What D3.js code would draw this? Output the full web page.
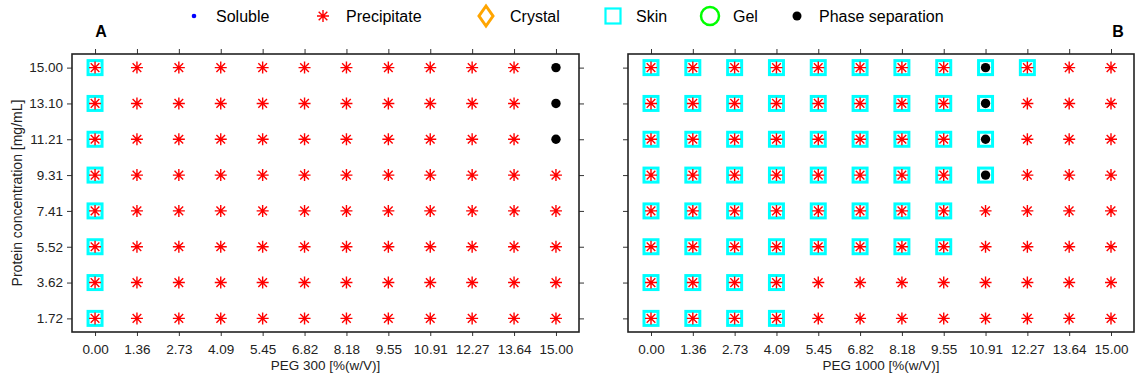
<!DOCTYPE html>
<html>
<head>
<meta charset="utf-8">
<script src="https://cdn.jsdelivr.net/npm/d3@7"></script>
<style>
  html, body { margin: 0; padding: 0; background: #fff; }
  svg { display: block; font-family: "Liberation Sans", Arial, sans-serif; }
</style>
</head>
<body>
<svg id="chart" width="1135" height="379"></svg>
<script>
// PEG concentration levels (x) and protein concentration levels (y)
const pegLevels = ["0.00", "1.36", "2.73", "4.09", "5.45", "6.82", "8.18", "9.55", "10.91", "12.27", "13.64", "15.00"];
const proteinLevels = ["15.00", "13.10", "11.21", "9.31", "7.41", "5.52", "3.62", "1.72"];

// Observed outcome per well. K = skin, P = precipitate, S = phase separation.
// One row per protein concentration (top to bottom), one entry per PEG level.
const peg300Rows = [
  ["KP", "P", "P", "P", "P", "P", "P", "P", "P", "P", "P", "S"],
  ["KP", "P", "P", "P", "P", "P", "P", "P", "P", "P", "P", "S"],
  ["KP", "P", "P", "P", "P", "P", "P", "P", "P", "P", "P", "S"],
  ["KP", "P", "P", "P", "P", "P", "P", "P", "P", "P", "P", "P"],
  ["KP", "P", "P", "P", "P", "P", "P", "P", "P", "P", "P", "P"],
  ["KP", "P", "P", "P", "P", "P", "P", "P", "P", "P", "P", "P"],
  ["KP", "P", "P", "P", "P", "P", "P", "P", "P", "P", "P", "P"],
  ["KP", "P", "P", "P", "P", "P", "P", "P", "P", "P", "P", "P"]
];
const peg1000Rows = [
  ["KP", "KP", "KP", "KP", "KP", "KP", "KP", "KP", "KS", "KP", "P", "P"],
  ["KP", "KP", "KP", "KP", "KP", "KP", "KP", "KP", "KS", "P", "P", "P"],
  ["KP", "KP", "KP", "KP", "KP", "KP", "KP", "KP", "KS", "P", "P", "P"],
  ["KP", "KP", "KP", "KP", "KP", "KP", "KP", "KP", "KS", "P", "P", "P"],
  ["KP", "KP", "KP", "KP", "KP", "KP", "KP", "KP", "P", "P", "P", "P"],
  ["KP", "KP", "KP", "KP", "KP", "KP", "KP", "KP", "P", "P", "P", "P"],
  ["KP", "KP", "KP", "KP", "P", "P", "P", "P", "P", "P", "P", "P"],
  ["KP", "KP", "KP", "KP", "P", "P", "P", "P", "P", "P", "P", "P"]
];

const legendLabels = ["Soluble", "Precipitate", "Crystal", "Skin", "Gel", "Phase separation"];

const COL = { soluble: "#0000ff", precip: "#ff0000", crystal: "#ffa500", skin: "#00ffff", gel: "#00ff00", phase: "#000000" };

const svg = d3.select("#chart");

// Eight-armed asterisk path centred at 0,0
function starPath(r) {
  const d = r * 0.72;
  return `M${-r},0L${r},0M0,${-r}L0,${r}M${-d},${-d}L${d},${d}M${-d},${d}L${d},${-d}`;
}

function drawPanel(cfg) {
  const x = d3.scalePoint().domain(pegLevels).range([cfg.left, cfg.right]).padding(0.55);
  const y = d3.scalePoint().domain(proteinLevels).range([cfg.top, cfg.bottom]).padding(0.38);
  const g = svg.append("g");

  const styleAxis = sel => {
    sel.select(".domain").remove();
    sel.selectAll(".tick line").attr("stroke", "#333").attr("stroke-width", 1);
    sel.selectAll(".tick text").attr("fill", "#222").attr("font-size", 13.5)
      .attr("font-family", "Liberation Sans, Arial, sans-serif");
  };

  g.append("g").attr("transform", `translate(0,${cfg.bottom})`)
    .call(d3.axisBottom(x).tickSize(4).tickPadding(8).tickSizeOuter(0)).call(styleAxis);
  g.append("g").attr("transform", `translate(0,${cfg.top})`)
    .call(d3.axisTop(x).tickSize(5).tickFormat("").tickSizeOuter(0)).call(styleAxis);
  if (cfg.leftLabels) {
    g.append("g").attr("transform", `translate(${cfg.left},0)`)
      .call(d3.axisLeft(y).tickSize(5).tickPadding(4).tickSizeOuter(0)).call(styleAxis);
  } else {
    g.append("g").attr("transform", `translate(${cfg.left},0)`)
      .call(d3.axisLeft(y).tickSize(5).tickFormat("").tickSizeOuter(0)).call(styleAxis);
  }
  if (cfg.rightTicks) {
    g.append("g").attr("transform", `translate(${cfg.right},0)`)
      .call(d3.axisRight(y).tickSize(5).tickFormat("").tickSizeOuter(0)).call(styleAxis);
  }

  // Flatten grid into cells
  const cells = [];
  cfg.rows.forEach((row, i) => row.forEach((code, j) => {
    cells.push({ peg: pegLevels[j], protein: proteinLevels[i], code });
  }));

  const marks = g.append("g");
  marks.selectAll("rect.skin").data(cells.filter(c => c.code.includes("K"))).join("rect")
    .attr("class", "skin")
    .attr("x", c => x(c.peg) - 7).attr("y", c => y(c.protein) - 7)
    .attr("width", 14).attr("height", 14)
    .attr("fill", "none").attr("stroke", COL.skin).attr("stroke-width", 3);
  marks.selectAll("path.precip").data(cells.filter(c => c.code.includes("P"))).join("path")
    .attr("class", "precip")
    .attr("transform", c => `translate(${x(c.peg)},${y(c.protein)})`)
    .attr("d", starPath(6))
    .attr("stroke", COL.precip).attr("stroke-width", 1.4).attr("fill", "none");
  marks.selectAll("circle.phase").data(cells.filter(c => c.code.includes("S"))).join("circle")
    .attr("class", "phase")
    .attr("cx", c => x(c.peg)).attr("cy", c => y(c.protein)).attr("r", 4.7)
    .attr("fill", COL.phase);

  // Frame
  g.append("rect")
    .attr("x", cfg.left).attr("y", cfg.top)
    .attr("width", cfg.right - cfg.left).attr("height", cfg.bottom - cfg.top)
    .attr("fill", "none").attr("stroke", "#222").attr("stroke-width", 1.6);

  // Axis title
  g.append("text")
    .attr("x", (cfg.left + cfg.right) / 2).attr("y", 370)
    .attr("text-anchor", "middle").attr("font-size", 13.5).attr("fill", "#222")
    .text(cfg.xTitle);

  // Panel letter
  g.append("text")
    .attr("x", cfg.letterX).attr("y", 37)
    .attr("text-anchor", "middle").attr("font-size", 16).attr("font-weight", "bold").attr("fill", "#000")
    .text(cfg.letter);
}

drawPanel({ left: 72, right: 579, top: 54, bottom: 332, rows: peg300Rows,
  xTitle: "PEG 300 [%(w/V)]", letter: "A", letterX: 101, leftLabels: true, rightTicks: true });
drawPanel({ left: 628, right: 1134, top: 54, bottom: 332, rows: peg1000Rows,
  xTitle: "PEG 1000 [%(w/V)]", letter: "B", letterX: 1118, leftLabels: false, rightTicks: false });

// Shared y-axis title
svg.append("text")
  .attr("transform", "translate(22,193) rotate(-90)")
  .attr("text-anchor", "middle").attr("font-size", 14).attr("fill", "#222")
  .text("Protein concentration [mg/mL]");

// Legend
const legendSymX = [194, 323, 486, 613, 710, 797];
const legendTextX = [216, 346, 510, 636, 733, 819];
const ly = 16;
const lg = svg.append("g");
legendLabels.forEach((lab, i) => {
  const sx = legendSymX[i];
  if (i === 0) {
    lg.append("circle").attr("cx", sx).attr("cy", ly).attr("r", 2.3).attr("fill", COL.soluble);
  } else if (i === 1) {
    lg.append("path").attr("transform", `translate(${sx},${ly})`).attr("d", starPath(6))
      .attr("stroke", COL.precip).attr("stroke-width", 1.4).attr("fill", "none");
  } else if (i === 2) {
    lg.append("path").attr("transform", `translate(${sx},${ly})`)
      .attr("d", "M0,-10L7,0L0,10L-7,0Z")
      .attr("fill", "none").attr("stroke", COL.crystal).attr("stroke-width", 3);
  } else if (i === 3) {
    lg.append("rect").attr("x", sx - 7.5).attr("y", ly - 7.5).attr("width", 15).attr("height", 15)
      .attr("fill", "none").attr("stroke", COL.skin).attr("stroke-width", 2.2);
  } else if (i === 4) {
    lg.append("circle").attr("cx", sx).attr("cy", ly).attr("r", 9)
      .attr("fill", "none").attr("stroke", COL.gel).attr("stroke-width", 2.5);
  } else {
    lg.append("circle").attr("cx", sx).attr("cy", ly).attr("r", 4.5).attr("fill", COL.phase);
  }
  lg.append("text").attr("x", legendTextX[i]).attr("y", ly + 6)
    .attr("font-size", 16).attr("fill", "#000").text(lab);
});
</script>
</body>
</html>
